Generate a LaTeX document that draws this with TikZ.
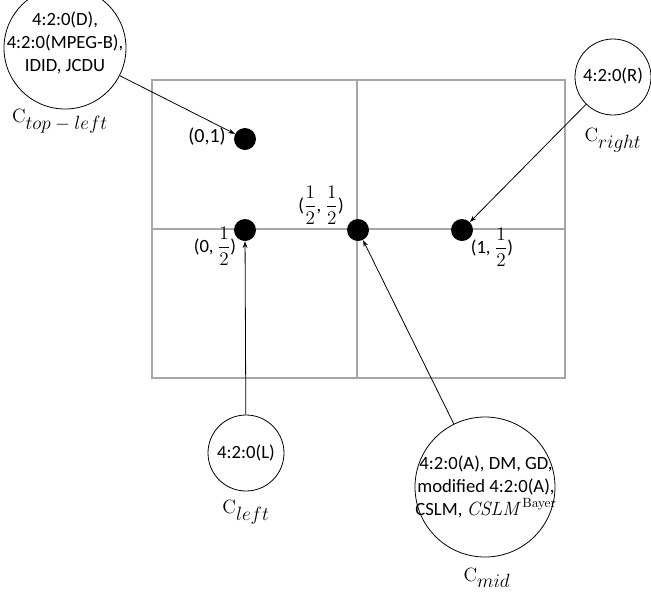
\documentclass[tikz,border=0pt]{standalone}
\usepackage{amsmath}
\usepackage[no-math]{fontspec}
\setmainfont{Carlito}
\usetikzlibrary{arrows.meta}
\tikzstyle{sample}=[circle,fill=black,minimum size=16.5pt,inner sep=0pt]
\tikzstyle{ring}=[circle,draw=black,line width=0.6pt,inner sep=0pt]
\tikzstyle{txt}=[align=center,inner sep=0pt,font=\fontsize{14}{17}\selectfont]
\tikzstyle{cname}=[inner sep=0pt,font=\fontsize{15}{17}\selectfont]
\tikzstyle{grid}=[draw=gray!70,line width=0.8pt]
\tikzstyle{ptr}=[-{Stealth[length=5pt,width=3.5pt]},line width=0.6pt]

\begin{document}
\begin{tikzpicture}[x=0.75pt,y=-0.75pt]
\useasboundingbox (0, 0) rectangle (651, 594);
\draw[grid] (152, 80) rectangle (565, 378);
\draw[grid] (357, 80) -- (357, 378);
\draw[grid] (152, 229) -- (565, 229);
\node[sample] at (245, 139) (p01) {};
\node[sample] at (245, 230) (p0h) {};
\node[sample] at (358, 230) (phh) {};
\node[sample] at (462, 230) (p1h) {};
\node[txt,font=\fontsize{15}{17}\selectfont] at (207, 137) (l01) {(0,1)};
\node[txt] at (321, 205) (lhh) {($\dfrac{1}{2}$, $\dfrac{1}{2}$)};
\node[txt] at (215, 246) (l0h) {(0, $\dfrac{1}{2}$)};
\node[txt] at (492, 247) (l1h) {(1, $\dfrac{1}{2}$)};
\node[ring,minimum size=91.5pt] at (65, 48) (ctl) {};
\node[txt] at (65, 43) {4:2:0(D),\\4:2:0(MPEG-B),\\IDID, JCDU};
\node[cname] at (60, 121) (nctl) {$\mathrm{C}_{\textstyle top-left}$};
\node[ring,minimum size=57pt] at (613, 77) (cr) {};
\node[txt] at (613, 76) {4:2:0(R)};
\node[cname] at (613, 140) (ncr) {$\mathrm{C}_{\textstyle right}$};
\node[ring,minimum size=57pt] at (246, 453) (cl) {};
\node[txt] at (246, 453) {4:2:0(L)};
\node[cname] at (246, 512) (ncl) {$\mathrm{C}_{\textstyle left}$};
\node[ring,minimum size=105pt] at (485, 487) (cm) {};
\node[txt] at (486, 487) {4:2:0(A), DM, GD,\\modified 4:2:0(A),\\CSLM, $\mathit{CSLM}^{\mathrm{Bayer}}$};
\node[cname] at (487, 578) (ncm) {$\mathrm{C}_{\textstyle mid}$};
\draw[ptr] (ctl) -- (p01);
\draw[ptr] (cr) -- (p1h);
\draw[ptr] (cl) -- (p0h);
\draw[ptr] (cm) -- (phh);
\end{tikzpicture}
\end{document}
